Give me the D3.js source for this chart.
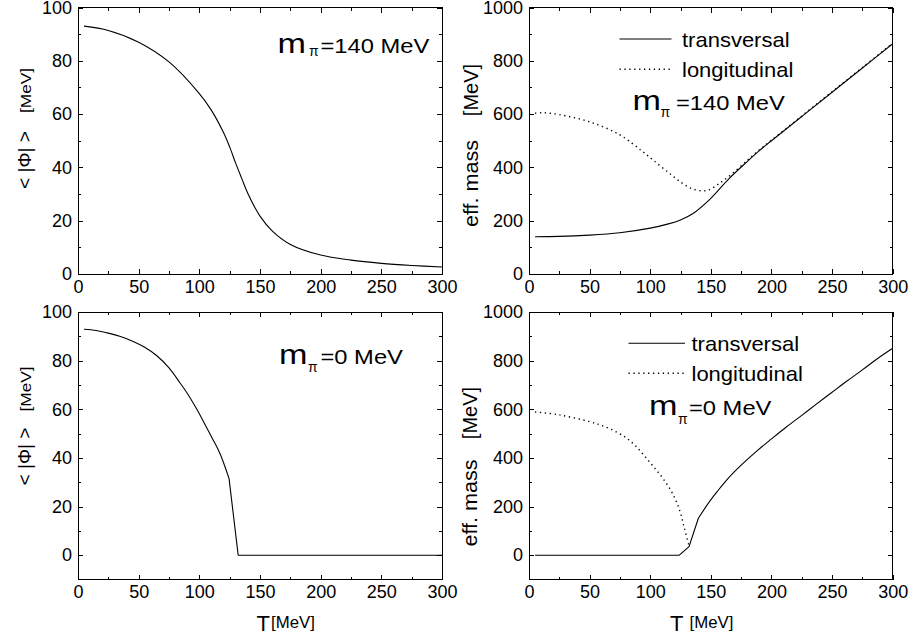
<!DOCTYPE html>
<html><head><meta charset="utf-8">
<script src="https://cdn.jsdelivr.net/npm/d3@7"></script>
<style>
html,body{margin:0;padding:0;background:#fff;}
svg{display:block;font-family:"Liberation Sans",Arial,Helvetica,sans-serif;}
</style></head><body>
<svg id="c" width="910" height="641"></svg>
<script>
// ---------- tick values ----------
const xTicks = [0, 50, 100, 150, 200, 250, 300];
const xMinorTicks = [25, 75, 125, 175, 225, 275];
const phiTicks = [0, 20, 40, 60, 80, 100];
const phiMinorTicks = [10, 30, 50, 70, 90];
const massTicks = [0, 200, 400, 600, 800, 1000];
const massMinorTicks = [100, 300, 500, 700, 900];

// ---------- m_pi = 140 MeV ----------
const T_phi140 = [5, 25, 50, 75, 100, 110, 120, 125, 130, 135, 140, 150, 160, 175, 200, 225, 250, 275, 300];
const phi140   = [93.0, 91.4, 87.0, 79.6, 67.7, 61.4, 53.0, 47.7, 41.5, 35.8, 30.2, 21.7, 16.2, 11.1, 7.1, 5.2, 4.0, 3.2, 2.6];

const T_trans140 = [5, 25, 50, 75, 100, 115, 125, 135, 150, 165, 180, 190, 200, 225, 250, 275, 300];
const trans140   = [140, 141, 146, 155, 172, 188, 203, 226, 284, 358, 422, 463, 500, 591, 682, 773, 864];

const T_long140 = [5, 12, 25, 50, 75, 93, 102.5, 116, 126, 134, 142, 148, 157, 168, 180, 188, 200, 225, 250, 275, 300];
const long140   = [603, 605, 598, 571, 522, 462, 427, 377, 342, 321, 312, 315, 340, 378, 426, 458, 502, 593, 684, 775, 866];

// ---------- m_pi = 0 MeV ----------
const T_phi0 = [5, 15, 25, 35, 45, 55, 65, 75, 84, 90, 97.7, 104, 111.4, 117, 124.5, 132, 300];
const phi0   = [92.9, 92.4, 91.3, 89.9, 88.0, 85.5, 82.0, 77.0, 70.9, 66.6, 60.2, 54.4, 47.4, 41.8, 31.5, 0, 0];
const kinkPhi0 = 124.5;     // curve is smooth below this T, straight segments above

const T_trans0 = [5, 124, 132, 139.7, 148, 155, 163, 175, 189, 200, 212, 225, 237, 250, 262, 275, 287, 300];
const trans0   = [0, 0, 35, 152, 214, 260, 309, 370, 433, 478, 526, 575, 621, 670, 715, 762, 807, 851];
const kinkTrans0 = 139.7;   // straight segments below this T, smooth above

const T_long0 = [5, 25, 50, 60, 70, 80, 88, 96, 104, 111, 119, 124.6, 128.2, 132];
const long0   = [589, 577, 549, 533, 512, 483, 449, 404, 356, 312, 248, 179, 110, 38];

const legendLabels = ["transversal", "longitudinal"];

// ---------- drawing ----------
const svg = d3.select("#c");
const FONT = 18;
const smooth = d3.curveCatmullRom.alpha(0.5);

function zip(T, V) { return T.map((t, i) => [t, V[i]]); }

function panel(cfg) {
  const x = d3.scaleLinear().domain([0, 300]).range([cfg.left, cfg.right]);
  const y = d3.scaleLinear().domain(cfg.ydom).range([cfg.bottom, cfg.top]);
  const g = svg.append("g");

  function ax(axis, tr, vals, size, labels) {
    const a = g.append("g").attr("transform", tr)
      .call(axis.tickValues(vals).tickSizeInner(-size).tickSizeOuter(0).tickPadding(6)
        .tickFormat(labels ? d3.format("d") : () => ""));
    a.select(".domain").remove();
    a.selectAll("line").attr("stroke", "#000").attr("shape-rendering", "crispEdges");
    a.selectAll("text").attr("font-size", FONT).attr("font-family", "Liberation Sans, Arial, sans-serif").attr("fill", "#000");
  }
  ax(d3.axisBottom(x), `translate(0,${cfg.bottom})`, xTicks, 5, true);
  ax(d3.axisBottom(x), `translate(0,${cfg.bottom})`, xMinorTicks, 3, false);
  ax(d3.axisTop(x), `translate(0,${cfg.top})`, xTicks, 5, false);
  ax(d3.axisTop(x), `translate(0,${cfg.top})`, xMinorTicks, 3, false);
  ax(d3.axisLeft(y), `translate(${cfg.left},0)`, cfg.yTicks, 5, true);
  ax(d3.axisLeft(y), `translate(${cfg.left},0)`, cfg.yMinor, 3, false);
  ax(d3.axisRight(y), `translate(${cfg.right},0)`, cfg.yTicks, 5, false);
  ax(d3.axisRight(y), `translate(${cfg.right},0)`, cfg.yMinor, 3, false);

  g.append("rect").attr("x", cfg.left).attr("y", cfg.top)
    .attr("width", cfg.right - cfg.left).attr("height", cfg.bottom - cfg.top)
    .attr("fill", "none").attr("stroke", "#000").attr("stroke-width", 1)
    .attr("shape-rendering", "crispEdges");

  cfg.series.forEach(s => {
    const pts = zip(s.T, s.V);
    let pieces;
    if (s.kink !== undefined) {
      const lo = pts.filter(d => d[0] <= s.kink), hi = pts.filter(d => d[0] >= s.kink);
      pieces = s.smoothBelow ? [[lo, smooth], [hi, d3.curveLinear]] : [[lo, d3.curveLinear], [hi, smooth]];
    } else pieces = [[pts, smooth]];
    let dStr = "";
    pieces.forEach(([p, c]) => {
      dStr += d3.line().x(d => x(d[0])).y(d => y(d[1])).curve(c)(p);
    });
    g.append("path").attr("d", dStr)
      .attr("fill", "none").attr("stroke", "#000")
      .attr("stroke-width", s.dotted ? 1.4 : 1.1)
      .attr("stroke-linejoin", "round")
      .attr("stroke-dasharray", s.dotted ? "1.3,3.6" : null);
  });
  return { x, y, g };
}

function txt(x, y, str, size, sx, rot, anchor) {
  svg.append("text")
    .attr("transform", `translate(${x},${y})` + (rot ? ` rotate(${rot})` : "") + ` scale(${sx},1)`)
    .attr("font-size", size).attr("text-anchor", anchor || "start").attr("fill", "#000")
    .text(str);
}

function mpi(x, y, xp, yp, xr, rest) {
  txt(x, y, "m", 28, 1.22);
  txt(xp, yp, "π", 14, 1.0);
  txt(xr, y, rest, 21, 1.13);
}

function legend(x1, x2, xt, y1, y2) {
  svg.append("line").attr("x1", x1).attr("x2", x2).attr("y1", y1).attr("y2", y1)
    .attr("stroke", "#000").attr("stroke-width", 1.1);
  svg.append("line").attr("x1", x1).attr("x2", x2).attr("y1", y2).attr("y2", y2)
    .attr("stroke", "#000").attr("stroke-width", 1.4).attr("stroke-dasharray", "1.3,3.6");
  txt(xt, y1 + 7.5, legendLabels[0], 20, 1.1);
  txt(xt, y2 + 8, legendLabels[1], 20, 1.1);
}

// top-left
panel({ left: 78, right: 442, top: 7.5, bottom: 274, ydom: [0, 100], yTicks: phiTicks, yMinor: phiMinorTicks,
  series: [{ T: T_phi140, V: phi140 }] });
// top-right
panel({ left: 529, right: 892.7, top: 7.5, bottom: 274, ydom: [0, 1000], yTicks: massTicks, yMinor: massMinorTicks,
  series: [{ T: T_trans140, V: trans140 },
           { T: T_long140, V: long140, dotted: true }] });
// bottom-left
panel({ left: 78, right: 442, top: 312, bottom: 579.5, ydom: [-10, 100], yTicks: phiTicks, yMinor: phiMinorTicks,
  series: [{ T: T_phi0, V: phi0, kink: kinkPhi0, smoothBelow: true }] });
// bottom-right
panel({ left: 529, right: 892.7, top: 312, bottom: 579.5, ydom: [-100, 1000], yTicks: massTicks, yMinor: massMinorTicks,
  series: [{ T: T_trans0, V: trans0, kink: kinkTrans0, smoothBelow: false },
           { T: T_long0, V: long0, dotted: true }] });

// annotations
mpi(277.5, 53, 309, 55.5, 320.5, "=140 MeV");
mpi(632.5, 110, 660.5, 117, 676, "=140 MeV");
mpi(279, 364, 308, 371.5, 320.5, "=0 MeV");
mpi(649, 415, 678, 424, 689, "=0 MeV");

legend(619.5, 671.5, 682, 39, 69.3);
legend(628.5, 685, 691.5, 343.3, 373.3);

// y axis labels
txt(31, 160, "< |Φ| >", 19, 1.0, -90, "middle");
txt(31, 90.5, "[MeV]", 15, 1.15, -90, "middle");
txt(31, 456.5, "< |Φ| >", 19, 1.0, -90, "middle");
txt(31, 389, "[MeV]", 15, 1.15, -90, "middle");
txt(478, 183.5, "eff. mass", 20, 1.08, -90, "middle");
txt(478, 90, "[MeV]", 20, 1.0, -90, "middle");
txt(477, 503, "eff. mass", 20, 1.08, -90, "middle");
txt(477, 413, "[MeV]", 20, 1.0, -90, "middle");

// x axis labels
txt(256.5, 631, "T", 22, 1.0);
txt(271, 628, "[MeV]", 16, 1.05);
txt(670, 631, "T", 22, 1.0);
txt(689.5, 628, "[MeV]", 16, 1.05);
</script>
</body></html>
